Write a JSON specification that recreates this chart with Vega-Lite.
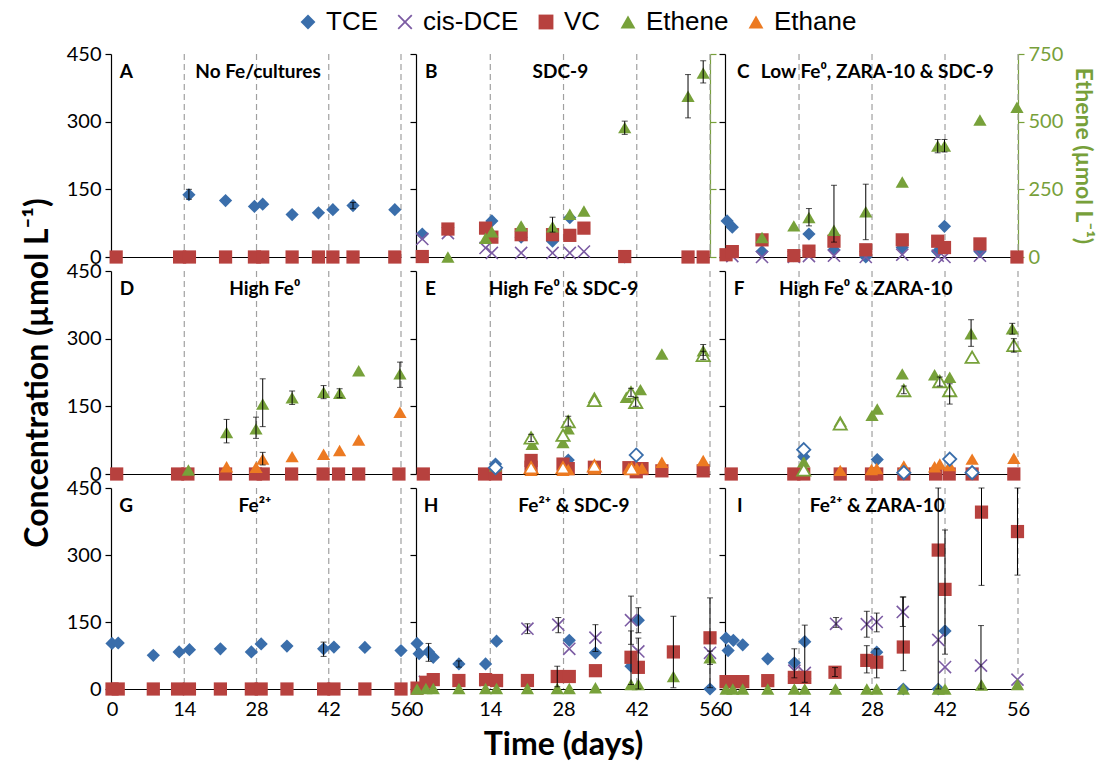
{
"$schema":"https://vega.github.io/schema/vega-lite/v6.json",
"background":"white",
"padding":{"left":21,"top":9,"right":5,"bottom":5},
"columns":3,
"spacing":{"row":14,"column":15},
"bounds":"flush",
"datasets":{"pts":[
{"p":"A","s":"TCE","d":14.9,"v":138,"lo":128,"hi":150},{"p":"A","s":"TCE","d":22,"v":125},{"p":"A","s":"TCE","d":27.6,"v":112},{"p":"A","s":"TCE","d":29.2,"v":117},{"p":"A","s":"TCE","d":34.9,"v":94},{"p":"A","s":"TCE","d":40,"v":98},{"p":"A","s":"TCE","d":42.8,"v":105},{"p":"A","s":"TCE","d":46.7,"v":114,"lo":107,"hi":121},{"p":"A","s":"TCE","d":54.8,"v":105},
{"p":"A","s":"VC","d":0.8,"v":0},{"p":"A","s":"VC","d":13.1,"v":0},{"p":"A","s":"VC","d":15,"v":0},{"p":"A","s":"VC","d":22,"v":0},{"p":"A","s":"VC","d":27.6,"v":0},{"p":"A","s":"VC","d":29.2,"v":0},{"p":"A","s":"VC","d":34.9,"v":0},{"p":"A","s":"VC","d":40,"v":0},{"p":"A","s":"VC","d":42.8,"v":0},{"p":"A","s":"VC","d":46.7,"v":0},{"p":"A","s":"VC","d":54.8,"v":0},
{"p":"B","s":"TCE","d":1,"v":51},{"p":"B","s":"TCE","d":14.3,"v":80},{"p":"B","s":"TCE","d":19.9,"v":44},{"p":"B","s":"TCE","d":25.9,"v":35},{"p":"B","s":"TCE","d":29.2,"v":87},{"p":"B","s":"TCE","d":39.7,"v":0},
{"p":"B","s":"cis-DCE","d":1,"v":40},{"p":"B","s":"cis-DCE","d":5.9,"v":53},{"p":"B","s":"cis-DCE","d":13.1,"v":20},{"p":"B","s":"cis-DCE","d":14.3,"v":9},{"p":"B","s":"cis-DCE","d":19.9,"v":9},{"p":"B","s":"cis-DCE","d":25.9,"v":9},{"p":"B","s":"cis-DCE","d":29.2,"v":9},{"p":"B","s":"cis-DCE","d":31.9,"v":12},
{"p":"B","s":"VC","d":1,"v":1},{"p":"B","s":"VC","d":5.9,"v":62},{"p":"B","s":"VC","d":13.1,"v":64},{"p":"B","s":"VC","d":14.3,"v":44},{"p":"B","s":"VC","d":19.9,"v":49.5},{"p":"B","s":"VC","d":25.9,"v":49.5},{"p":"B","s":"VC","d":29.2,"v":48},{"p":"B","s":"VC","d":31.9,"v":64},{"p":"B","s":"VC","d":39.7,"v":1},{"p":"B","s":"VC","d":51.8,"v":0},{"p":"B","s":"VC","d":54.7,"v":0},
{"p":"B","s":"Ethene","d":5.9,"v":0},{"p":"B","s":"Ethene","d":13.1,"v":69},{"p":"B","s":"Ethene","d":14.3,"v":93},{"p":"B","s":"Ethene","d":19.9,"v":115},{"p":"B","s":"Ethene","d":25.9,"v":112,"lo":92,"hi":147},{"p":"B","s":"Ethene","d":29.2,"v":158},{"p":"B","s":"Ethene","d":31.9,"v":170},{"p":"B","s":"Ethene","d":39.7,"v":478,"lo":453,"hi":502},{"p":"B","s":"Ethene","d":51.8,"v":594,"lo":514,"hi":674},{"p":"B","s":"Ethene","d":54.7,"v":680,"lo":643,"hi":725},
{"p":"C","s":"TCE","d":0.2,"v":80},{"p":"C","s":"TCE","d":1.2,"v":66},{"p":"C","s":"TCE","d":6.9,"v":12},{"p":"C","s":"TCE","d":13,"v":3},{"p":"C","s":"TCE","d":15.9,"v":51},{"p":"C","s":"TCE","d":20.7,"v":16},{"p":"C","s":"TCE","d":26.8,"v":0},{"p":"C","s":"TCE","d":33.8,"v":21},{"p":"C","s":"TCE","d":40.6,"v":12},{"p":"C","s":"TCE","d":41.9,"v":68},{"p":"C","s":"TCE","d":48.7,"v":12},
{"p":"C","s":"cis-DCE","d":1.2,"v":2},{"p":"C","s":"cis-DCE","d":6.9,"v":0},{"p":"C","s":"cis-DCE","d":13,"v":0},{"p":"C","s":"cis-DCE","d":15.9,"v":2},{"p":"C","s":"cis-DCE","d":20.7,"v":3},{"p":"C","s":"cis-DCE","d":26.8,"v":0},{"p":"C","s":"cis-DCE","d":33.8,"v":5},{"p":"C","s":"cis-DCE","d":40.6,"v":3},{"p":"C","s":"cis-DCE","d":41.9,"v":0},{"p":"C","s":"cis-DCE","d":48.7,"v":3},
{"p":"C","s":"VC","d":0,"v":5},{"p":"C","s":"VC","d":1.2,"v":12},{"p":"C","s":"VC","d":6.9,"v":38},{"p":"C","s":"VC","d":13,"v":3},{"p":"C","s":"VC","d":15.9,"v":13},{"p":"C","s":"VC","d":20.7,"v":35},{"p":"C","s":"VC","d":26.8,"v":16},{"p":"C","s":"VC","d":33.8,"v":38},{"p":"C","s":"VC","d":40.6,"v":35},{"p":"C","s":"VC","d":41.9,"v":21},{"p":"C","s":"VC","d":48.7,"v":29},{"p":"C","s":"VC","d":55.8,"v":0},
{"p":"C","s":"Ethene","d":6.9,"v":72},{"p":"C","s":"Ethene","d":13,"v":115},{"p":"C","s":"Ethene","d":15.9,"v":146,"lo":115,"hi":179},{"p":"C","s":"Ethene","d":20.7,"v":99,"lo":55,"hi":265},{"p":"C","s":"Ethene","d":26.8,"v":167,"lo":64,"hi":269},{"p":"C","s":"Ethene","d":33.8,"v":277},{"p":"C","s":"Ethene","d":40.6,"v":410,"lo":385,"hi":434},{"p":"C","s":"Ethene","d":41.9,"v":410,"lo":388,"hi":434},{"p":"C","s":"Ethene","d":48.7,"v":506},{"p":"C","s":"Ethene","d":55.8,"v":553},
{"p":"D","s":"VC","d":0.9,"v":0},{"p":"D","s":"VC","d":12.7,"v":0},{"p":"D","s":"VC","d":14.7,"v":0},{"p":"D","s":"VC","d":22,"v":0},{"p":"D","s":"VC","d":27.8,"v":0},{"p":"D","s":"VC","d":29.3,"v":0},{"p":"D","s":"VC","d":34.8,"v":0},{"p":"D","s":"VC","d":40.9,"v":0},{"p":"D","s":"VC","d":43.9,"v":0},{"p":"D","s":"VC","d":47.8,"v":0},{"p":"D","s":"VC","d":55.6,"v":0},
{"p":"D","s":"Ethene","d":14.8,"v":9},{"p":"D","s":"Ethene","d":22.2,"v":92,"lo":69,"hi":121},{"p":"D","s":"Ethene","d":27.9,"v":100,"lo":79,"hi":126},{"p":"D","s":"Ethene","d":29.2,"v":155,"lo":105,"hi":211},{"p":"D","s":"Ethene","d":34.9,"v":169,"lo":154,"hi":184},{"p":"D","s":"Ethene","d":41,"v":181,"lo":167,"hi":196},{"p":"D","s":"Ethene","d":44.1,"v":179,"lo":169,"hi":189},{"p":"D","s":"Ethene","d":47.8,"v":229},{"p":"D","s":"Ethene","d":55.8,"v":222,"lo":192,"hi":248},
{"p":"D","s":"Ethane","d":22.2,"v":16},{"p":"D","s":"Ethane","d":27.9,"v":15},{"p":"D","s":"Ethane","d":29.2,"v":33,"lo":20,"hi":48},{"p":"D","s":"Ethane","d":34.9,"v":38.5},{"p":"D","s":"Ethane","d":41,"v":44},{"p":"D","s":"Ethane","d":44.1,"v":52},{"p":"D","s":"Ethane","d":47.8,"v":75.5},{"p":"D","s":"Ethane","d":55.8,"v":137},
{"p":"E","s":"TCE","d":15,"v":22},{"p":"E","s":"TCE","d":28.9,"v":31},{"p":"E","s":"TCE","d":15,"v":14,"o":1},{"p":"E","s":"TCE","d":41.9,"v":42,"o":1},
{"p":"E","s":"VC","d":1.2,"v":0},{"p":"E","s":"VC","d":12.9,"v":0},{"p":"E","s":"VC","d":15,"v":0},{"p":"E","s":"VC","d":21.8,"v":30},{"p":"E","s":"VC","d":21.8,"v":15},{"p":"E","s":"VC","d":27.9,"v":22},{"p":"E","s":"VC","d":28.9,"v":12},{"p":"E","s":"VC","d":33.9,"v":15},{"p":"E","s":"VC","d":40.5,"v":14},{"p":"E","s":"VC","d":41.9,"v":5},{"p":"E","s":"VC","d":43,"v":12},{"p":"E","s":"VC","d":46.8,"v":7},{"p":"E","s":"VC","d":54.7,"v":7},
{"p":"E","s":"Ethene","d":15,"v":18},{"p":"E","s":"Ethene","d":22,"v":66},{"p":"E","s":"Ethene","d":27.9,"v":70},{"p":"E","s":"Ethene","d":28.9,"v":100},{"p":"E","s":"Ethene","d":33.9,"v":170},{"p":"E","s":"Ethene","d":40,"v":170},{"p":"E","s":"Ethene","d":42.7,"v":187},{"p":"E","s":"Ethene","d":46.8,"v":266},{"p":"E","s":"Ethene","d":54.7,"v":273,"lo":263,"hi":287},
{"p":"E","s":"Ethene","d":21.8,"v":80,"lo":72,"hi":88,"o":1},{"p":"E","s":"Ethene","d":27.9,"v":86,"o":1},{"p":"E","s":"Ethene","d":28.9,"v":116,"lo":106,"hi":128,"o":1},{"p":"E","s":"Ethene","d":33.9,"v":163,"o":1},{"p":"E","s":"Ethene","d":40.9,"v":180,"lo":172,"hi":190,"o":1},{"p":"E","s":"Ethene","d":41.8,"v":159,"lo":150,"hi":170,"o":1},{"p":"E","s":"Ethene","d":54.7,"v":263,"lo":254,"hi":272,"o":1},
{"p":"E","s":"Ethane","d":21.8,"v":8},{"p":"E","s":"Ethane","d":27.9,"v":8},{"p":"E","s":"Ethane","d":28.9,"v":10},{"p":"E","s":"Ethane","d":33.9,"v":11},{"p":"E","s":"Ethane","d":40.5,"v":13},{"p":"E","s":"Ethane","d":42,"v":13},{"p":"E","s":"Ethane","d":43,"v":13},{"p":"E","s":"Ethane","d":46.8,"v":26},{"p":"E","s":"Ethane","d":54.7,"v":30},
{"p":"E","s":"Ethane","d":21.8,"v":14,"o":1},{"p":"E","s":"Ethane","d":27.9,"v":14,"o":1},{"p":"E","s":"Ethane","d":33.9,"v":18,"o":1},{"p":"E","s":"Ethane","d":41,"v":12,"o":1},
{"p":"F","s":"TCE","d":14.9,"v":38},{"p":"F","s":"TCE","d":29,"v":32},{"p":"F","s":"TCE","d":14.9,"v":54,"o":1},{"p":"F","s":"TCE","d":34.1,"v":3,"o":1},{"p":"F","s":"TCE","d":42.9,"v":33,"o":1},{"p":"F","s":"TCE","d":47.2,"v":3,"o":1},
{"p":"F","s":"VC","d":1,"v":0},{"p":"F","s":"VC","d":13,"v":0},{"p":"F","s":"VC","d":14.9,"v":0},{"p":"F","s":"VC","d":21.9,"v":0},{"p":"F","s":"VC","d":27.9,"v":0},{"p":"F","s":"VC","d":28.9,"v":0},{"p":"F","s":"VC","d":34.1,"v":0},{"p":"F","s":"VC","d":40.2,"v":0},{"p":"F","s":"VC","d":42.8,"v":0},{"p":"F","s":"VC","d":47.2,"v":0},{"p":"F","s":"VC","d":55.2,"v":0},
{"p":"F","s":"Ethene","d":14.9,"v":27},{"p":"F","s":"Ethene","d":21.9,"v":117},{"p":"F","s":"Ethene","d":28,"v":130},{"p":"F","s":"Ethene","d":29,"v":144},{"p":"F","s":"Ethene","d":33.8,"v":222},{"p":"F","s":"Ethene","d":40,"v":220},{"p":"F","s":"Ethene","d":42.9,"v":214.5},{"p":"F","s":"Ethene","d":47,"v":311,"lo":283,"hi":342},{"p":"F","s":"Ethene","d":54.9,"v":322,"lo":310,"hi":334},
{"p":"F","s":"Ethene","d":14.9,"v":9,"o":1},{"p":"F","s":"Ethene","d":21.9,"v":111,"o":1},{"p":"F","s":"Ethene","d":34.1,"v":185,"lo":178,"hi":195,"o":1},{"p":"F","s":"Ethene","d":41,"v":205,"lo":195,"hi":215,"o":1},{"p":"F","s":"Ethene","d":42.9,"v":185,"lo":155,"hi":200,"o":1},{"p":"F","s":"Ethene","d":47.2,"v":259,"o":1},{"p":"F","s":"Ethene","d":55.2,"v":285,"lo":270,"hi":300,"o":1},
{"p":"F","s":"Ethane","d":21.9,"v":8},{"p":"F","s":"Ethane","d":27.9,"v":10},{"p":"F","s":"Ethane","d":28.9,"v":12},{"p":"F","s":"Ethane","d":34.1,"v":18},{"p":"F","s":"Ethane","d":40,"v":16},{"p":"F","s":"Ethane","d":41,"v":22},{"p":"F","s":"Ethane","d":42.9,"v":19},{"p":"F","s":"Ethane","d":47.2,"v":33},{"p":"F","s":"Ethane","d":55.2,"v":35},
{"p":"G","s":"TCE","d":0,"v":102},{"p":"G","s":"TCE","d":1.2,"v":103},{"p":"G","s":"TCE","d":8,"v":75.5},{"p":"G","s":"TCE","d":13,"v":83},{"p":"G","s":"TCE","d":15,"v":88},{"p":"G","s":"TCE","d":21,"v":90},{"p":"G","s":"TCE","d":27,"v":83},{"p":"G","s":"TCE","d":28.9,"v":101},{"p":"G","s":"TCE","d":33.9,"v":96},{"p":"G","s":"TCE","d":41,"v":90,"lo":73,"hi":105},{"p":"G","s":"TCE","d":43,"v":94},{"p":"G","s":"TCE","d":49,"v":93},{"p":"G","s":"TCE","d":56,"v":86},
{"p":"G","s":"VC","d":0,"v":0},{"p":"G","s":"VC","d":1.2,"v":0},{"p":"G","s":"VC","d":8,"v":0},{"p":"G","s":"VC","d":12.7,"v":0},{"p":"G","s":"VC","d":15,"v":0},{"p":"G","s":"VC","d":21,"v":0},{"p":"G","s":"VC","d":27,"v":0},{"p":"G","s":"VC","d":28.9,"v":0},{"p":"G","s":"VC","d":33.9,"v":0},{"p":"G","s":"VC","d":41,"v":0},{"p":"G","s":"VC","d":43,"v":0},{"p":"G","s":"VC","d":49,"v":0},{"p":"G","s":"VC","d":56,"v":0},
{"p":"H","s":"TCE","d":0,"v":102},{"p":"H","s":"TCE","d":0.4,"v":79},{"p":"H","s":"TCE","d":2.2,"v":83,"lo":62,"hi":102},{"p":"H","s":"TCE","d":3.1,"v":71},{"p":"H","s":"TCE","d":8,"v":56,"lo":49,"hi":63},{"p":"H","s":"TCE","d":13.1,"v":56},{"p":"H","s":"TCE","d":15.2,"v":107},{"p":"H","s":"TCE","d":29.1,"v":109},{"p":"H","s":"TCE","d":34.1,"v":81},{"p":"H","s":"TCE","d":40.9,"v":51},{"p":"H","s":"TCE","d":42.3,"v":154,"lo":126,"hi":182},{"p":"H","s":"TCE","d":56,"v":0},
{"p":"H","s":"cis-DCE","d":1.5,"v":16},{"p":"H","s":"cis-DCE","d":13.1,"v":20},{"p":"H","s":"cis-DCE","d":15.2,"v":18},{"p":"H","s":"cis-DCE","d":21.1,"v":135,"lo":124,"hi":146},{"p":"H","s":"cis-DCE","d":27,"v":144,"lo":126,"hi":160},{"p":"H","s":"cis-DCE","d":29.1,"v":90},{"p":"H","s":"cis-DCE","d":34.1,"v":115,"lo":84,"hi":144},{"p":"H","s":"cis-DCE","d":40.9,"v":154,"lo":100,"hi":208},{"p":"H","s":"cis-DCE","d":42.3,"v":84},{"p":"H","s":"cis-DCE","d":56,"v":81},
{"p":"H","s":"VC","d":0,"v":2},{"p":"H","s":"VC","d":1.7,"v":15},{"p":"H","s":"VC","d":3.1,"v":21},{"p":"H","s":"VC","d":8,"v":19},{"p":"H","s":"VC","d":13.1,"v":21},{"p":"H","s":"VC","d":15.2,"v":19},{"p":"H","s":"VC","d":21.1,"v":19},{"p":"H","s":"VC","d":26.8,"v":28,"lo":5,"hi":51},{"p":"H","s":"VC","d":29.1,"v":28},{"p":"H","s":"VC","d":34.1,"v":41},{"p":"H","s":"VC","d":40.9,"v":71,"lo":10,"hi":130},{"p":"H","s":"VC","d":42.3,"v":48.5,"lo":0,"hi":114},{"p":"H","s":"VC","d":49,"v":83,"lo":3,"hi":163},{"p":"H","s":"VC","d":56,"v":114.6,"lo":3,"hi":204},
{"p":"H","s":"Ethene","d":0,"v":0},{"p":"H","s":"Ethene","d":1.7,"v":1},{"p":"H","s":"Ethene","d":3.1,"v":1},{"p":"H","s":"Ethene","d":8,"v":1},{"p":"H","s":"Ethene","d":13.1,"v":1},{"p":"H","s":"Ethene","d":15.2,"v":1},{"p":"H","s":"Ethene","d":21.1,"v":1},{"p":"H","s":"Ethene","d":26.8,"v":1},{"p":"H","s":"Ethene","d":29.1,"v":1},{"p":"H","s":"Ethene","d":34.1,"v":3},{"p":"H","s":"Ethene","d":40.9,"v":10},{"p":"H","s":"Ethene","d":42.3,"v":10},{"p":"H","s":"Ethene","d":49,"v":28},{"p":"H","s":"Ethene","d":56,"v":70,"lo":55,"hi":85},
{"p":"I","s":"TCE","d":0,"v":114},{"p":"I","s":"TCE","d":0.4,"v":86},{"p":"I","s":"TCE","d":1.4,"v":109},{"p":"I","s":"TCE","d":3.2,"v":99},{"p":"I","s":"TCE","d":8,"v":67.5},{"p":"I","s":"TCE","d":13.1,"v":58.5,"lo":25,"hi":90},{"p":"I","s":"TCE","d":15.1,"v":106,"lo":15,"hi":143},{"p":"I","s":"TCE","d":28.9,"v":82.5},{"p":"I","s":"TCE","d":34,"v":0},{"p":"I","s":"TCE","d":40.7,"v":0},{"p":"I","s":"TCE","d":42,"v":130},
{"p":"I","s":"cis-DCE","d":13.1,"v":41},{"p":"I","s":"cis-DCE","d":15.1,"v":36},{"p":"I","s":"cis-DCE","d":21.1,"v":146,"lo":138,"hi":160},{"p":"I","s":"cis-DCE","d":27,"v":145,"lo":116,"hi":174},{"p":"I","s":"cis-DCE","d":28.9,"v":150,"lo":128,"hi":170},{"p":"I","s":"cis-DCE","d":33.9,"v":172.5,"lo":140,"hi":206},{"p":"I","s":"cis-DCE","d":40.7,"v":110},{"p":"I","s":"cis-DCE","d":42,"v":49},{"p":"I","s":"cis-DCE","d":48.9,"v":52.5,"lo":0,"hi":142},{"p":"I","s":"cis-DCE","d":55.9,"v":21},
{"p":"I","s":"VC","d":0,"v":16.5},{"p":"I","s":"VC","d":1.3,"v":16.5},{"p":"I","s":"VC","d":3.2,"v":16.5},{"p":"I","s":"VC","d":8,"v":18.7},{"p":"I","s":"VC","d":13.1,"v":26},{"p":"I","s":"VC","d":15.1,"v":26},{"p":"I","s":"VC","d":20.9,"v":37.5,"lo":28,"hi":48},{"p":"I","s":"VC","d":27,"v":64,"lo":36,"hi":97},{"p":"I","s":"VC","d":28.9,"v":60,"lo":25,"hi":90},{"p":"I","s":"VC","d":34,"v":94,"lo":41,"hi":206},{"p":"I","s":"VC","d":40.7,"v":311,"lo":0,"hi":450},{"p":"I","s":"VC","d":42,"v":223,"lo":78,"hi":356},{"p":"I","s":"VC","d":49,"v":396,"lo":232,"hi":450},{"p":"I","s":"VC","d":55.9,"v":352.5,"lo":255,"hi":450},
{"p":"I","s":"Ethene","d":0,"v":0},{"p":"I","s":"Ethene","d":1.3,"v":0},{"p":"I","s":"Ethene","d":3.2,"v":0},{"p":"I","s":"Ethene","d":8,"v":0},{"p":"I","s":"Ethene","d":13.1,"v":0},{"p":"I","s":"Ethene","d":15.1,"v":0},{"p":"I","s":"Ethene","d":21,"v":0},{"p":"I","s":"Ethene","d":27,"v":0},{"p":"I","s":"Ethene","d":28.9,"v":0},{"p":"I","s":"Ethene","d":34,"v":0},{"p":"I","s":"Ethene","d":40.7,"v":0},{"p":"I","s":"Ethene","d":42,"v":0},{"p":"I","s":"Ethene","d":49,"v":9},{"p":"I","s":"Ethene","d":55.9,"v":10}
],
"days":[{"d":14},{"d":28},{"d":42},{"d":56}]},
"concat":[
{"width":290,"height":203,"layer":[
 {"data":{"name":"days"},"mark":{"type":"rule","color":"#a0a0a0","strokeDash":[6,4],"strokeWidth":1.2},"encoding":{"x":{"field":"d","type":"quantitative","title":null,"scale":{"domain":[-0.2,56],"nice":false,"zero":false},"axis":{"values":[0,14,28,42,56],"labels":false}}}},
 {"data":{"name":"pts"},"transform":[{"filter":"datum.p==='A' && datum.o!==1"}],"mark":{"type":"point","filled":true,"opacity":1,"size":175},"encoding":{"x":{"field":"d","type":"quantitative","title":null},"y":{"field":"v","type":"quantitative","title":null,"scale":{"domain":[0,450],"nice":false},"axis":{"values":[0,150,300,450],"labels":true}},
  "color":{"field":"s","type":"nominal","title":null,"scale":{"domain":["TCE","cis-DCE","VC","Ethene","Ethane"],"range":["#3A6EAB","#7B5BA3","#B7413E","#77A13A","#EC7A22"]},"legend":{"title":null,"orient":"none","legendX":184,"legendY":-45,"direction":"horizontal","labelFont":"Liberation Sans","labelFontSize":26,"labelColor":"#000","symbolSize":220,"columnPadding":14,"labelOffset":5,"symbolStrokeWidth":0}},
  "shape":{"field":"s","type":"nominal","title":null,"scale":{"domain":["TCE","cis-DCE","VC","Ethene","Ethane"],"range":["diamond","M1,-0.83L0.17,0L1,0.83L0.83,1L0,0.17L-0.83,1L-1,0.83L-0.17,0L-1,-0.83L-0.83,-1L0,-0.17L0.83,-1Z","square","triangle-up","triangle-up"]},"legend":{"title":null,"orient":"none","legendX":184,"legendY":-45,"direction":"horizontal","labelFont":"Liberation Sans","labelFontSize":26,"labelColor":"#000","symbolSize":220,"columnPadding":14,"labelOffset":5,"symbolStrokeWidth":0}}}},
 {"data":{"name":"pts"},"transform":[{"filter":"datum.p==='A' && isValid(datum.lo)"}],"mark":{"type":"errorbar","color":"black","thickness":1,"ticks":{"size":6}},"encoding":{"x":{"field":"d","type":"quantitative","title":null},"y":{"field":"lo","type":"quantitative","title":null},"y2":{"field":"hi"}}},
 {"data":{"values":[{}]},"mark":{"type":"text","text":"A","align":"left","baseline":"middle","font":"Lato","fontSize":19,"fontWeight":"bold","color":"black"},"encoding":{"x":{"datum":1.5,"type":"quantitative","title":null},"y":{"datum":411,"type":"quantitative","title":null}}},
 {"data":{"values":[{}]},"mark":{"type":"text","text":"No Fe/cultures","align":"center","baseline":"middle","font":"Lato","fontSize":19,"fontWeight":"bold","color":"black"},"encoding":{"x":{"datum":28.3,"type":"quantitative","title":null},"y":{"datum":411,"type":"quantitative","title":null}}}
]},
{"width":294,"height":203,"layer":[
 {"layer":[
  {"data":{"name":"days"},"mark":{"type":"rule","color":"#a0a0a0","strokeDash":[6,4],"strokeWidth":1.2},"encoding":{"x":{"field":"d","type":"quantitative","title":null,"scale":{"domain":[-0.2,56],"nice":false,"zero":false},"axis":{"values":[0,14,28,42,56],"labels":false}}}},
  {"data":{"name":"pts"},"transform":[{"filter":"datum.p==='B' && datum.s!=='Ethene'"}],"mark":{"type":"point","filled":true,"opacity":1,"size":175},"encoding":{"x":{"field":"d","type":"quantitative","title":null},"y":{"field":"v","type":"quantitative","title":null,"scale":{"domain":[0,450],"nice":false},"axis":{"values":[0,150,300,450],"labels":false}},
   "color":{"field":"s","type":"nominal","title":null,"scale":{"domain":["TCE","cis-DCE","VC","Ethene","Ethane"],"range":["#3A6EAB","#7B5BA3","#B7413E","#77A13A","#EC7A22"]},"legend":null},
   "shape":{"field":"s","type":"nominal","title":null,"scale":{"domain":["TCE","cis-DCE","VC","Ethene","Ethane"],"range":["diamond","M1,-0.83L0.17,0L1,0.83L0.83,1L0,0.17L-0.83,1L-1,0.83L-0.17,0L-1,-0.83L-0.83,-1L0,-0.17L0.83,-1Z","square","triangle-up","triangle-up"]},"legend":null}}},
  {"data":{"values":[{}]},"mark":{"type":"text","text":"B","align":"left","baseline":"middle","font":"Lato","fontSize":19,"fontWeight":"bold","color":"black"},"encoding":{"x":{"datum":1.5,"type":"quantitative","title":null},"y":{"datum":411,"type":"quantitative","title":null}}},
  {"data":{"values":[{}]},"mark":{"type":"text","text":"SDC-9","align":"center","baseline":"middle","font":"Lato","fontSize":19,"fontWeight":"bold","color":"black"},"encoding":{"x":{"datum":27.4,"type":"quantitative","title":null},"y":{"datum":411,"type":"quantitative","title":null}}}
 ]},
 {"layer":[
  {"data":{"name":"pts"},"transform":[{"filter":"datum.p==='B' && datum.s==='Ethene'"}],"mark":{"type":"point","filled":true,"opacity":1,"size":175},"encoding":{"x":{"field":"d","type":"quantitative","title":null},"y":{"field":"v","type":"quantitative","title":null,"scale":{"domain":[0,750],"nice":false},"axis":{"orient":"right","values":[0,250,500,750],"labels":false,"domainColor":"#77A03A","tickColor":"#77A03A"}},
   "color":{"field":"s","type":"nominal","title":null,"scale":{"domain":["TCE","cis-DCE","VC","Ethene","Ethane"],"range":["#3A6EAB","#7B5BA3","#B7413E","#77A13A","#EC7A22"]},"legend":null},
   "shape":{"field":"s","type":"nominal","title":null,"scale":{"domain":["TCE","cis-DCE","VC","Ethene","Ethane"],"range":["diamond","M1,-0.83L0.17,0L1,0.83L0.83,1L0,0.17L-0.83,1L-1,0.83L-0.17,0L-1,-0.83L-0.83,-1L0,-0.17L0.83,-1Z","square","triangle-up","triangle-up"]},"legend":null}}},
  {"data":{"name":"pts"},"transform":[{"filter":"datum.p==='B' && datum.s==='Ethene' && isValid(datum.lo)"}],"mark":{"type":"errorbar","color":"black","thickness":1,"ticks":{"size":6}},"encoding":{"x":{"field":"d","type":"quantitative","title":null},"y":{"field":"lo","type":"quantitative","title":null},"y2":{"field":"hi"}}}
 ]}
],"resolve":{"scale":{"y":"independent"},"axis":{"y":"independent"}}},
{"width":293,"height":203,"layer":[
 {"layer":[
  {"data":{"name":"days"},"mark":{"type":"rule","color":"#a0a0a0","strokeDash":[6,4],"strokeWidth":1.2},"encoding":{"x":{"field":"d","type":"quantitative","title":null,"scale":{"domain":[-0.2,56],"nice":false,"zero":false},"axis":{"values":[0,14,28,42,56],"labels":false}}}},
  {"data":{"name":"pts"},"transform":[{"filter":"datum.p==='C' && datum.s!=='Ethene'"}],"mark":{"type":"point","filled":true,"opacity":1,"size":175},"encoding":{"x":{"field":"d","type":"quantitative","title":null},"y":{"field":"v","type":"quantitative","title":null,"scale":{"domain":[0,450],"nice":false},"axis":{"values":[0,150,300,450],"labels":false}},
   "color":{"field":"s","type":"nominal","title":null,"scale":{"domain":["TCE","cis-DCE","VC","Ethene","Ethane"],"range":["#3A6EAB","#7B5BA3","#B7413E","#77A13A","#EC7A22"]},"legend":null},
   "shape":{"field":"s","type":"nominal","title":null,"scale":{"domain":["TCE","cis-DCE","VC","Ethene","Ethane"],"range":["diamond","M1,-0.83L0.17,0L1,0.83L0.83,1L0,0.17L-0.83,1L-1,0.83L-0.17,0L-1,-0.83L-0.83,-1L0,-0.17L0.83,-1Z","square","triangle-up","triangle-up"]},"legend":null}}},
  {"data":{"values":[{}]},"mark":{"type":"text","text":"C","align":"left","baseline":"middle","font":"Lato","fontSize":19,"fontWeight":"bold","color":"black"},"encoding":{"x":{"datum":2.1,"type":"quantitative","title":null},"y":{"datum":411,"type":"quantitative","title":null}}},
  {"data":{"values":[{}]},"mark":{"type":"text","text":"Low Fe⁰, ZARA-10 & SDC-9","align":"center","baseline":"middle","font":"Lato","fontSize":19,"fontWeight":"bold","color":"black"},"encoding":{"x":{"datum":29,"type":"quantitative","title":null},"y":{"datum":411,"type":"quantitative","title":null}}}
 ]},
 {"layer":[
  {"data":{"name":"pts"},"transform":[{"filter":"datum.p==='C' && datum.s==='Ethene'"}],"mark":{"type":"point","filled":true,"opacity":1,"size":175},"encoding":{"x":{"field":"d","type":"quantitative","title":null},"y":{"field":"v","type":"quantitative","title":"Ethene (µmol L⁻¹)","scale":{"domain":[0,750],"nice":false},"axis":{"orient":"right","values":[0,250,500,750],"labels":true,"domainColor":"#77A03A","tickColor":"#77A03A","labelColor":"#77A03A","titleColor":"#77A03A","titleFontSize":23,"titleFontWeight":"bold","titlePadding":8}},
   "color":{"field":"s","type":"nominal","title":null,"scale":{"domain":["TCE","cis-DCE","VC","Ethene","Ethane"],"range":["#3A6EAB","#7B5BA3","#B7413E","#77A13A","#EC7A22"]},"legend":null},
   "shape":{"field":"s","type":"nominal","title":null,"scale":{"domain":["TCE","cis-DCE","VC","Ethene","Ethane"],"range":["diamond","M1,-0.83L0.17,0L1,0.83L0.83,1L0,0.17L-0.83,1L-1,0.83L-0.17,0L-1,-0.83L-0.83,-1L0,-0.17L0.83,-1Z","square","triangle-up","triangle-up"]},"legend":null}}},
  {"data":{"name":"pts"},"transform":[{"filter":"datum.p==='C' && datum.s==='Ethene' && isValid(datum.lo)"}],"mark":{"type":"errorbar","color":"black","thickness":1,"ticks":{"size":6}},"encoding":{"x":{"field":"d","type":"quantitative","title":null},"y":{"field":"lo","type":"quantitative","title":"Ethene (µmol L⁻¹)"},"y2":{"field":"hi"}}}
 ]}
],"resolve":{"scale":{"y":"independent"},"axis":{"y":"independent"}}},
{"width":290,"height":203,"layer":[
 {"data":{"name":"days"},"mark":{"type":"rule","color":"#a0a0a0","strokeDash":[6,4],"strokeWidth":1.2},"encoding":{"x":{"field":"d","type":"quantitative","title":null,"scale":{"domain":[-0.2,56],"nice":false,"zero":false},"axis":{"values":[0,14,28,42,56],"labels":false}}}},
 {"data":{"name":"pts"},"transform":[{"filter":"datum.p==='D' && datum.o!==1"}],"mark":{"type":"point","filled":true,"opacity":1,"size":175},"encoding":{"x":{"field":"d","type":"quantitative","title":null},"y":{"field":"v","type":"quantitative","title":"Concentration (µmol L⁻¹)","scale":{"domain":[0,450],"nice":false},"axis":{"values":[0,150,300,450],"labels":true,"titleFontSize":32,"titleFontWeight":"bold","titlePadding":12}},
  "color":{"field":"s","type":"nominal","title":null,"scale":{"domain":["TCE","cis-DCE","VC","Ethene","Ethane"],"range":["#3A6EAB","#7B5BA3","#B7413E","#77A13A","#EC7A22"]},"legend":null},
  "shape":{"field":"s","type":"nominal","title":null,"scale":{"domain":["TCE","cis-DCE","VC","Ethene","Ethane"],"range":["diamond","M1,-0.83L0.17,0L1,0.83L0.83,1L0,0.17L-0.83,1L-1,0.83L-0.17,0L-1,-0.83L-0.83,-1L0,-0.17L0.83,-1Z","square","triangle-up","triangle-up"]},"legend":null}}},
 {"data":{"name":"pts"},"transform":[{"filter":"datum.p==='D' && isValid(datum.lo)"}],"mark":{"type":"errorbar","color":"black","thickness":1,"ticks":{"size":6}},"encoding":{"x":{"field":"d","type":"quantitative","title":null},"y":{"field":"lo","type":"quantitative","title":"Concentration (µmol L⁻¹)"},"y2":{"field":"hi"}}},
 {"data":{"values":[{}]},"mark":{"type":"text","text":"D","align":"left","baseline":"middle","font":"Lato","fontSize":19,"fontWeight":"bold","color":"black"},"encoding":{"x":{"datum":1.5,"type":"quantitative","title":null},"y":{"datum":411,"type":"quantitative","title":"Concentration (µmol L⁻¹)"}}},
 {"data":{"values":[{}]},"mark":{"type":"text","text":"High Fe⁰","align":"center","baseline":"middle","font":"Lato","fontSize":19,"fontWeight":"bold","color":"black"},"encoding":{"x":{"datum":29.6,"type":"quantitative","title":null},"y":{"datum":411,"type":"quantitative","title":"Concentration (µmol L⁻¹)"}}}
]},
{"width":294,"height":203,"layer":[
 {"data":{"name":"days"},"mark":{"type":"rule","color":"#a0a0a0","strokeDash":[6,4],"strokeWidth":1.2},"encoding":{"x":{"field":"d","type":"quantitative","title":null,"scale":{"domain":[-0.2,56],"nice":false,"zero":false},"axis":{"values":[0,14,28,42,56],"labels":false}}}},
 {"data":{"name":"pts"},"transform":[{"filter":"datum.p==='E' && datum.o!==1"}],"mark":{"type":"point","filled":true,"opacity":1,"size":175},"encoding":{"x":{"field":"d","type":"quantitative","title":null},"y":{"field":"v","type":"quantitative","title":null,"scale":{"domain":[0,450],"nice":false},"axis":{"values":[0,150,300,450],"labels":false}},
  "color":{"field":"s","type":"nominal","title":null,"scale":{"domain":["TCE","cis-DCE","VC","Ethene","Ethane"],"range":["#3A6EAB","#7B5BA3","#B7413E","#77A13A","#EC7A22"]},"legend":null},
  "shape":{"field":"s","type":"nominal","title":null,"scale":{"domain":["TCE","cis-DCE","VC","Ethene","Ethane"],"range":["diamond","M1,-0.83L0.17,0L1,0.83L0.83,1L0,0.17L-0.83,1L-1,0.83L-0.17,0L-1,-0.83L-0.83,-1L0,-0.17L0.83,-1Z","square","triangle-up","triangle-up"]},"legend":null}}},
 {"data":{"name":"pts"},"transform":[{"filter":"datum.p==='E' && datum.o===1"}],"mark":{"type":"point","filled":false,"opacity":1,"size":175,"strokeWidth":1.8},"encoding":{"x":{"field":"d","type":"quantitative","title":null},"y":{"field":"v","type":"quantitative","title":null},"fill":{"value":"white"},
  "color":{"field":"s","type":"nominal","title":null,"scale":{"domain":["TCE","cis-DCE","VC","Ethene","Ethane"],"range":["#3A6EAB","#7B5BA3","#B7413E","#77A13A","#EC7A22"]},"legend":null},
  "shape":{"field":"s","type":"nominal","title":null,"scale":{"domain":["TCE","cis-DCE","VC","Ethene","Ethane"],"range":["diamond","M1,-0.83L0.17,0L1,0.83L0.83,1L0,0.17L-0.83,1L-1,0.83L-0.17,0L-1,-0.83L-0.83,-1L0,-0.17L0.83,-1Z","square","triangle-up","triangle-up"]},"legend":null}}},
 {"data":{"name":"pts"},"transform":[{"filter":"datum.p==='E' && isValid(datum.lo)"}],"mark":{"type":"errorbar","color":"black","thickness":1,"ticks":{"size":6}},"encoding":{"x":{"field":"d","type":"quantitative","title":null},"y":{"field":"lo","type":"quantitative","title":null},"y2":{"field":"hi"}}},
 {"data":{"values":[{}]},"mark":{"type":"text","text":"E","align":"left","baseline":"middle","font":"Lato","fontSize":19,"fontWeight":"bold","color":"black"},"encoding":{"x":{"datum":1.5,"type":"quantitative","title":null},"y":{"datum":411,"type":"quantitative","title":null}}},
 {"data":{"values":[{}]},"mark":{"type":"text","text":"High Fe⁰ & SDC-9","align":"center","baseline":"middle","font":"Lato","fontSize":19,"fontWeight":"bold","color":"black"},"encoding":{"x":{"datum":28,"type":"quantitative","title":null},"y":{"datum":411,"type":"quantitative","title":null}}}
]},
{"width":293,"height":203,"layer":[
 {"data":{"name":"days"},"mark":{"type":"rule","color":"#a0a0a0","strokeDash":[6,4],"strokeWidth":1.2},"encoding":{"x":{"field":"d","type":"quantitative","title":null,"scale":{"domain":[-0.2,56],"nice":false,"zero":false},"axis":{"values":[0,14,28,42,56],"labels":false}}}},
 {"data":{"name":"pts"},"transform":[{"filter":"datum.p==='F' && datum.o!==1"}],"mark":{"type":"point","filled":true,"opacity":1,"size":175},"encoding":{"x":{"field":"d","type":"quantitative","title":null},"y":{"field":"v","type":"quantitative","title":null,"scale":{"domain":[0,450],"nice":false},"axis":{"values":[0,150,300,450],"labels":false}},
  "color":{"field":"s","type":"nominal","title":null,"scale":{"domain":["TCE","cis-DCE","VC","Ethene","Ethane"],"range":["#3A6EAB","#7B5BA3","#B7413E","#77A13A","#EC7A22"]},"legend":null},
  "shape":{"field":"s","type":"nominal","title":null,"scale":{"domain":["TCE","cis-DCE","VC","Ethene","Ethane"],"range":["diamond","M1,-0.83L0.17,0L1,0.83L0.83,1L0,0.17L-0.83,1L-1,0.83L-0.17,0L-1,-0.83L-0.83,-1L0,-0.17L0.83,-1Z","square","triangle-up","triangle-up"]},"legend":null}}},
 {"data":{"name":"pts"},"transform":[{"filter":"datum.p==='F' && datum.o===1"}],"mark":{"type":"point","filled":false,"opacity":1,"size":175,"strokeWidth":1.8},"encoding":{"x":{"field":"d","type":"quantitative","title":null},"y":{"field":"v","type":"quantitative","title":null},"fill":{"value":"white"},
  "color":{"field":"s","type":"nominal","title":null,"scale":{"domain":["TCE","cis-DCE","VC","Ethene","Ethane"],"range":["#3A6EAB","#7B5BA3","#B7413E","#77A13A","#EC7A22"]},"legend":null},
  "shape":{"field":"s","type":"nominal","title":null,"scale":{"domain":["TCE","cis-DCE","VC","Ethene","Ethane"],"range":["diamond","M1,-0.83L0.17,0L1,0.83L0.83,1L0,0.17L-0.83,1L-1,0.83L-0.17,0L-1,-0.83L-0.83,-1L0,-0.17L0.83,-1Z","square","triangle-up","triangle-up"]},"legend":null}}},
 {"data":{"name":"pts"},"transform":[{"filter":"datum.p==='F' && isValid(datum.lo)"}],"mark":{"type":"errorbar","color":"black","thickness":1,"ticks":{"size":6}},"encoding":{"x":{"field":"d","type":"quantitative","title":null},"y":{"field":"lo","type":"quantitative","title":null},"y2":{"field":"hi"}}},
 {"data":{"values":[{}]},"mark":{"type":"text","text":"F","align":"left","baseline":"middle","font":"Lato","fontSize":19,"fontWeight":"bold","color":"black"},"encoding":{"x":{"datum":1.5,"type":"quantitative","title":null},"y":{"datum":411,"type":"quantitative","title":null}}},
 {"data":{"values":[{}]},"mark":{"type":"text","text":"High Fe⁰ & ZARA-10","align":"center","baseline":"middle","font":"Lato","fontSize":19,"fontWeight":"bold","color":"black"},"encoding":{"x":{"datum":26.8,"type":"quantitative","title":null},"y":{"datum":411,"type":"quantitative","title":null}}}
]},
{"width":290,"height":201,"layer":[
 {"data":{"name":"days"},"mark":{"type":"rule","color":"#a0a0a0","strokeDash":[6,4],"strokeWidth":1.2},"encoding":{"x":{"field":"d","type":"quantitative","title":null,"scale":{"domain":[-0.2,56],"nice":false,"zero":false},"axis":{"values":[0,14,28,42,56],"labels":true}}}},
 {"data":{"name":"pts"},"transform":[{"filter":"datum.p==='G' && datum.o!==1"}],"mark":{"type":"point","filled":true,"opacity":1,"size":175},"encoding":{"x":{"field":"d","type":"quantitative","title":null},"y":{"field":"v","type":"quantitative","title":null,"scale":{"domain":[0,450],"nice":false},"axis":{"values":[0,150,300,450],"labels":true}},
  "color":{"field":"s","type":"nominal","title":null,"scale":{"domain":["TCE","cis-DCE","VC","Ethene","Ethane"],"range":["#3A6EAB","#7B5BA3","#B7413E","#77A13A","#EC7A22"]},"legend":null},
  "shape":{"field":"s","type":"nominal","title":null,"scale":{"domain":["TCE","cis-DCE","VC","Ethene","Ethane"],"range":["diamond","M1,-0.83L0.17,0L1,0.83L0.83,1L0,0.17L-0.83,1L-1,0.83L-0.17,0L-1,-0.83L-0.83,-1L0,-0.17L0.83,-1Z","square","triangle-up","triangle-up"]},"legend":null}}},
 {"data":{"name":"pts"},"transform":[{"filter":"datum.p==='G' && isValid(datum.lo)"}],"mark":{"type":"errorbar","color":"black","thickness":1,"ticks":{"size":6}},"encoding":{"x":{"field":"d","type":"quantitative","title":null},"y":{"field":"lo","type":"quantitative","title":null},"y2":{"field":"hi"}}},
 {"data":{"values":[{}]},"mark":{"type":"text","text":"G","align":"left","baseline":"middle","font":"Lato","fontSize":19,"fontWeight":"bold","color":"black"},"encoding":{"x":{"datum":1.4,"type":"quantitative","title":null},"y":{"datum":410,"type":"quantitative","title":null}}},
 {"data":{"values":[{}]},"mark":{"type":"text","text":"Fe²⁺","align":"center","baseline":"middle","font":"Lato","fontSize":19,"fontWeight":"bold","color":"black"},"encoding":{"x":{"datum":27.7,"type":"quantitative","title":null},"y":{"datum":410,"type":"quantitative","title":null}}}
]},
{"width":294,"height":201,"layer":[
 {"data":{"name":"days"},"mark":{"type":"rule","color":"#a0a0a0","strokeDash":[6,4],"strokeWidth":1.2},"encoding":{"x":{"field":"d","type":"quantitative","title":"Time (days)","scale":{"domain":[-0.2,56],"nice":false,"zero":false},"axis":{"values":[0,14,28,42,56],"labels":true,"titleFontSize":32,"titleFontWeight":"bold","titlePadding":10}}}},
 {"data":{"name":"pts"},"transform":[{"filter":"datum.p==='H' && datum.o!==1"}],"mark":{"type":"point","filled":true,"opacity":1,"size":175},"encoding":{"x":{"field":"d","type":"quantitative","title":"Time (days)"},"y":{"field":"v","type":"quantitative","title":null,"scale":{"domain":[0,450],"nice":false},"axis":{"values":[0,150,300,450],"labels":false}},
  "color":{"field":"s","type":"nominal","title":null,"scale":{"domain":["TCE","cis-DCE","VC","Ethene","Ethane"],"range":["#3A6EAB","#7B5BA3","#B7413E","#77A13A","#EC7A22"]},"legend":null},
  "shape":{"field":"s","type":"nominal","title":null,"scale":{"domain":["TCE","cis-DCE","VC","Ethene","Ethane"],"range":["diamond","M1,-0.83L0.17,0L1,0.83L0.83,1L0,0.17L-0.83,1L-1,0.83L-0.17,0L-1,-0.83L-0.83,-1L0,-0.17L0.83,-1Z","square","triangle-up","triangle-up"]},"legend":null}}},
 {"data":{"name":"pts"},"transform":[{"filter":"datum.p==='H' && isValid(datum.lo)"}],"mark":{"type":"errorbar","color":"black","thickness":1,"ticks":{"size":6}},"encoding":{"x":{"field":"d","type":"quantitative","title":"Time (days)"},"y":{"field":"lo","type":"quantitative","title":null},"y2":{"field":"hi"}}},
 {"data":{"values":[{}]},"mark":{"type":"text","text":"H","align":"left","baseline":"middle","font":"Lato","fontSize":19,"fontWeight":"bold","color":"black"},"encoding":{"x":{"datum":1.3,"type":"quantitative","title":"Time (days)"},"y":{"datum":410,"type":"quantitative","title":null}}},
 {"data":{"values":[{}]},"mark":{"type":"text","text":"Fe²⁺ & SDC-9","align":"center","baseline":"middle","font":"Lato","fontSize":19,"fontWeight":"bold","color":"black"},"encoding":{"x":{"datum":30,"type":"quantitative","title":"Time (days)"},"y":{"datum":410,"type":"quantitative","title":null}}}
]},
{"width":293,"height":201,"layer":[
 {"data":{"name":"days"},"mark":{"type":"rule","color":"#a0a0a0","strokeDash":[6,4],"strokeWidth":1.2},"encoding":{"x":{"field":"d","type":"quantitative","title":null,"scale":{"domain":[-0.2,56],"nice":false,"zero":false},"axis":{"values":[0,14,28,42,56],"labels":true}}}},
 {"data":{"name":"pts"},"transform":[{"filter":"datum.p==='I' && datum.o!==1"}],"mark":{"type":"point","filled":true,"opacity":1,"size":175},"encoding":{"x":{"field":"d","type":"quantitative","title":null},"y":{"field":"v","type":"quantitative","title":null,"scale":{"domain":[0,450],"nice":false},"axis":{"values":[0,150,300,450],"labels":false}},
  "color":{"field":"s","type":"nominal","title":null,"scale":{"domain":["TCE","cis-DCE","VC","Ethene","Ethane"],"range":["#3A6EAB","#7B5BA3","#B7413E","#77A13A","#EC7A22"]},"legend":null},
  "shape":{"field":"s","type":"nominal","title":null,"scale":{"domain":["TCE","cis-DCE","VC","Ethene","Ethane"],"range":["diamond","M1,-0.83L0.17,0L1,0.83L0.83,1L0,0.17L-0.83,1L-1,0.83L-0.17,0L-1,-0.83L-0.83,-1L0,-0.17L0.83,-1Z","square","triangle-up","triangle-up"]},"legend":null}}},
 {"data":{"name":"pts"},"transform":[{"filter":"datum.p==='I' && isValid(datum.lo)"}],"mark":{"type":"errorbar","color":"black","thickness":1,"ticks":{"size":6}},"encoding":{"x":{"field":"d","type":"quantitative","title":null},"y":{"field":"lo","type":"quantitative","title":null},"y2":{"field":"hi"}}},
 {"data":{"values":[{}]},"mark":{"type":"text","text":"I","align":"left","baseline":"middle","font":"Lato","fontSize":19,"fontWeight":"bold","color":"black"},"encoding":{"x":{"datum":2.1,"type":"quantitative","title":null},"y":{"datum":410,"type":"quantitative","title":null}}},
 {"data":{"values":[{}]},"mark":{"type":"text","text":"Fe²⁺ & ZARA-10","align":"center","baseline":"middle","font":"Lato","fontSize":19,"fontWeight":"bold","color":"black"},"encoding":{"x":{"datum":29,"type":"quantitative","title":null},"y":{"datum":410,"type":"quantitative","title":null}}}
]}
],
"config":{
 "view":{"stroke":null},
 "font":"Lato",
 "axis":{"grid":false,"domainColor":"#000","domainWidth":1.2,"tickColor":"#000","tickWidth":1.2,"labelColor":"#000","labelFont":"Lato","labelFontSize":20,"titleFont":"Lato","titleColor":"#000"},
 "axisX":{"ticks":false,"labelPadding":10,"labelFlush":false},
 "axisY":{"tickSize":6,"labelPadding":4}
}
}
